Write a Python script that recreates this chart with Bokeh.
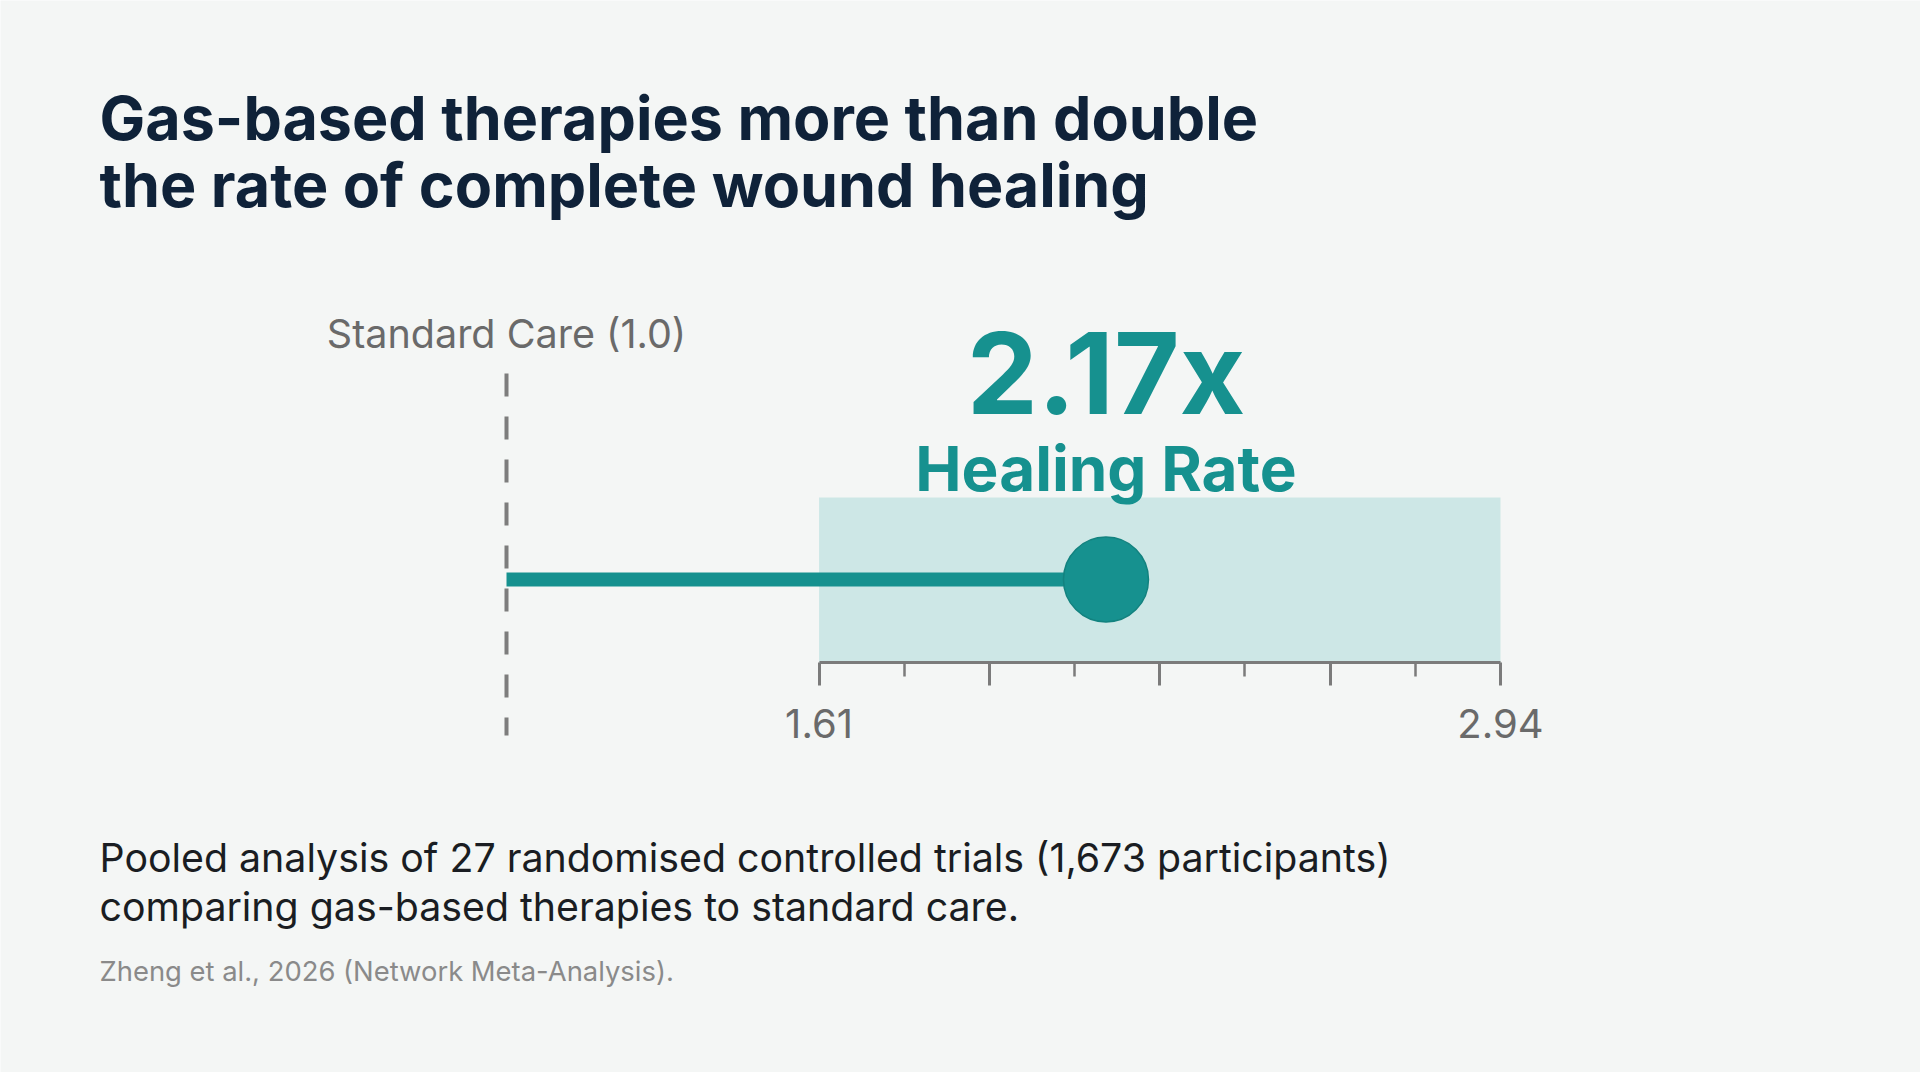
import numpy as np
from bokeh.plotting import figure
from bokeh.models import Range1d, LinearAxis, FixedTicker, CustomJSTickFormatter, Label
from bokeh.embed import file_html
from bokeh.resources import INLINE

# ---------------- data ----------------
title_lines = ["Gas-based therapies more than double",
               "the rate of complete wound healing"]
reference_label = "Standard Care (1.0)"
reference_value = [1.0]          # standard care ratio
estimate = [2.17]                # pooled healing-rate ratio
ci_low = [1.61]                  # 95% CI lower bound
ci_high = [2.94]                 # 95% CI upper bound
tick_labels = ["1.61", "2.94"]
headline = "2.17x"
headline_sub = "Healing Rate"
subtitle_lines = ["Pooled analysis of 27 randomised controlled trials (1,673 participants)",
                  "comparing gas-based therapies to standard care."]
source_text = "Zheng et al., 2026 (Network Meta-Analysis)."

# ---------------- style / layout ----------------
W, H = 1920, 1072
BG = "#f4f6f5"
NAVY = "#0f2239"
TEAL = "#16918f"
BOX = "#cde7e6"
GRAY_TXT = "#6a6a6a"
AXIS_C = "#7b7b7b"
FONT = "Inter"

REF_PX, HI_PX = 506, 1500        # screen positions of reference line and CI upper bound
px_per_unit = (HI_PX - REF_PX) / (ci_high[0] - reference_value[0])
x_start = reference_value[0] - REF_PX / px_per_unit
x_end = x_start + W / px_per_unit

ROW_Y = 579
BOX_TOP = 497
AXIS_Y = 662

p = figure(width=W, height=H, x_range=Range1d(x_start, x_end), y_range=Range1d(H, 0),
           output_backend="svg", toolbar_location=None, min_border=0,
           x_axis_type=None, y_axis_type=None,
           background_fill_color=BG, border_fill_color=BG, outline_line_color=None)
p.grid.visible = False

# confidence interval band
p.quad(left=ci_low, right=ci_high, top=[BOX_TOP], bottom=[AXIS_Y],
       fill_color=BOX, line_color=None)

# reference dashed line (standard care = 1.0)
p.segment(x0=reference_value, x1=reference_value, y0=[373], y1=[735],
          line_color="#7d7d7d", line_width=4, line_dash="23 20")

# stem and point estimate
p.segment(x0=reference_value, x1=estimate, y0=[ROW_Y], y1=[ROW_Y],
          line_color=TEAL, line_width=14)
p.scatter(x=estimate, y=[ROW_Y], size=85, fill_color=TEAL, line_color="#12827f", line_width=1.5)

# CI axis
major = list(np.linspace(ci_low[0], ci_high[0], 5))
minor = [(a + b) / 2 for a, b in zip(major[:-1], major[1:])]
ci_axis = LinearAxis(
    ticker=FixedTicker(ticks=major, minor_ticks=minor),
    formatter=CustomJSTickFormatter(args=dict(labels=tick_labels),
        code="return index == 0 ? labels[0] : (index == ticks.length - 1 ? labels[1] : '')"),
    bounds=(ci_low[0], ci_high[0]),
    fixed_location=AXIS_Y,
    axis_line_color=AXIS_C, axis_line_width=3,
    major_tick_line_color=AXIS_C, major_tick_line_width=3, major_tick_in=0, major_tick_out=23,
    minor_tick_line_color=AXIS_C, minor_tick_line_width=2.5, minor_tick_in=0, minor_tick_out=14,
    major_label_text_font=FONT, major_label_text_font_size="40px",
    major_label_text_color=GRAY_TXT, major_label_standoff=23,
)
p.add_layout(ci_axis, "below")

# texts
for i, line in enumerate(title_lines):
    p.add_layout(Label(x=99, y=117 + i * 67, x_units="screen", text=line,
                       text_font=FONT, text_font_style="bold", text_font_size="61px",
                       text_color=NAVY, text_baseline="alphabetic", text_align="left"))

p.add_layout(Label(x=reference_value[0], y=333, text=reference_label,
                   text_font=FONT, text_font_size="39.5px", text_color=GRAY_TXT,
                   text_baseline="alphabetic", text_align="center"))

p.add_layout(Label(x=estimate[0], y=372, text=headline,
                   text_font=FONT, text_font_style="bold", text_font_size="113px",
                   text_color=TEAL, text_baseline="alphabetic", text_align="center"))
p.add_layout(Label(x=estimate[0], y=468, text=headline_sub,
                   text_font=FONT, text_font_style="bold", text_font_size="62px",
                   text_color=TEAL, text_baseline="alphabetic", text_align="center"))

for i, line in enumerate(subtitle_lines):
    p.add_layout(Label(x=99, y=857 + i * 49, x_units="screen", text=line,
                       text_font=FONT, text_font_size="39.3px", text_color="#1a1d22",
                       text_baseline="alphabetic", text_align="left"))

p.add_layout(Label(x=99, y=970, x_units="screen", text=source_text,
                   text_font=FONT, text_font_size="27.4px", text_color="#8a8a8a",
                   text_baseline="alphabetic", text_align="left"))

open("out.html", "w").write(file_html(p, INLINE))
